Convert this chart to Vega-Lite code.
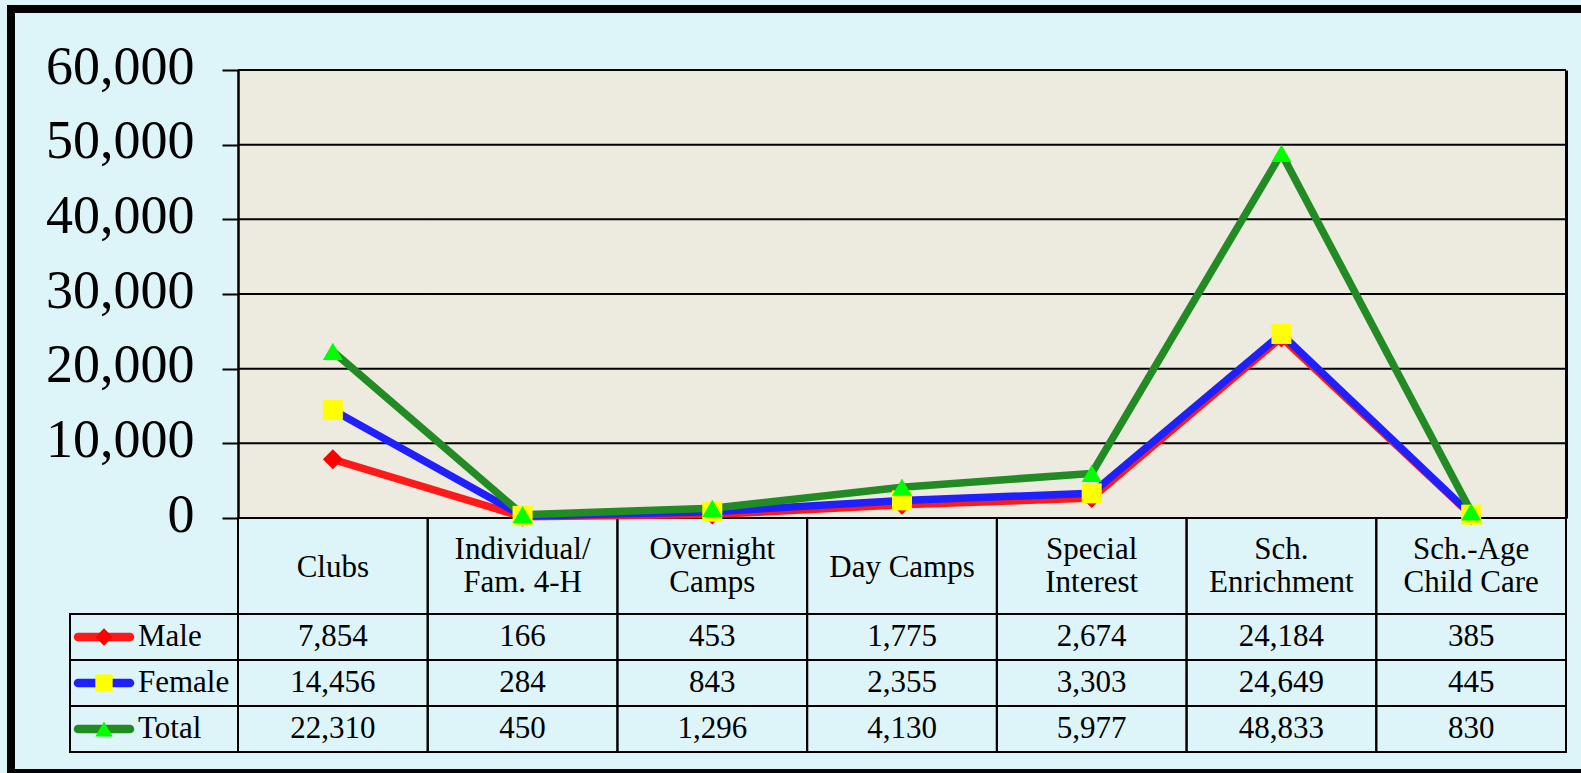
{
  "$schema": "https://vega.github.io/schema/vega-lite/v6.json",
  "width": 1570,
  "height": 764,
  "autosize": {"type": "none"},
  "padding": {"left": 11, "top": 9, "right": 0, "bottom": 0},
  "background": "#DDF4F9",
  "config": {
    "view": {"fill": "#DDF4F9", "stroke": "#000000", "strokeWidth": 8, "strokeDash": [1570, 764, 2400, 0]},
    "font": "Liberation Serif"
  },
  "datasets": {
    "gridValues": [
      {"tick": 0}, {"tick": 10000}, {"tick": 20000}, {"tick": 30000},
      {"tick": 40000}, {"tick": 50000}, {"tick": 60000}
    ]
  },
  "data": {
    "values": [
      {"series": "Male", "category": "Clubs", "value": 7854},
      {"series": "Male", "category": "Individual/\nFam. 4-H", "value": 166},
      {"series": "Male", "category": "Overnight\nCamps", "value": 453},
      {"series": "Male", "category": "Day Camps", "value": 1775},
      {"series": "Male", "category": "Special\nInterest", "value": 2674},
      {"series": "Male", "category": "Sch.\nEnrichment", "value": 24184},
      {"series": "Male", "category": "Sch.-Age\nChild Care", "value": 385},
      {"series": "Female", "category": "Clubs", "value": 14456},
      {"series": "Female", "category": "Individual/\nFam. 4-H", "value": 284},
      {"series": "Female", "category": "Overnight\nCamps", "value": 843},
      {"series": "Female", "category": "Day Camps", "value": 2355},
      {"series": "Female", "category": "Special\nInterest", "value": 3303},
      {"series": "Female", "category": "Sch.\nEnrichment", "value": 24649},
      {"series": "Female", "category": "Sch.-Age\nChild Care", "value": 445},
      {"series": "Total", "category": "Clubs", "value": 22310},
      {"series": "Total", "category": "Individual/\nFam. 4-H", "value": 450},
      {"series": "Total", "category": "Overnight\nCamps", "value": 1296},
      {"series": "Total", "category": "Day Camps", "value": 4130},
      {"series": "Total", "category": "Special\nInterest", "value": 5977},
      {"series": "Total", "category": "Sch.\nEnrichment", "value": 48833},
      {"series": "Total", "category": "Sch.-Age\nChild Care", "value": 830}
    ]
  },
  "layer": [
    {
      "transform": [{"filter": "datum.series === 'Male'"}],
      "layer": [
        {
          "mark": {"type": "rect", "filled": false, "color": "#000000", "strokeWidth": 2},
          "encoding": {
            "x": {"field": "category", "type": "nominal", "axis": null,
              "scale": {"type": "band", "domain": ["Clubs", "Individual/\nFam. 4-H", "Overnight\nCamps", "Day Camps", "Special\nInterest", "Sch.\nEnrichment", "Sch.-Age\nChild Care"], "range": [227, 1555], "paddingInner": 0, "paddingOuter": 0}},
            "y": {"datum": "header", "type": "nominal", "axis": null,
              "scale": {"type": "band", "domain": ["header"], "range": [509, 605], "paddingInner": 0, "paddingOuter": 0}}
          }
        },
        {
          "transform": [{"filter": "indexof(datum.category, '\\n') < 0"}],
          "mark": {"type": "text", "fontSize": 31, "baseline": "middle", "align": "center", "color": "#000000", "font": "Liberation Serif", "dy": 2},
          "encoding": {
            "x": {"field": "category", "type": "nominal", "axis": null,
              "scale": {"type": "band", "domain": ["Clubs", "Individual/\nFam. 4-H", "Overnight\nCamps", "Day Camps", "Special\nInterest", "Sch.\nEnrichment", "Sch.-Age\nChild Care"], "range": [227, 1555], "paddingInner": 0, "paddingOuter": 0}},
            "y": {"datum": "header", "type": "nominal", "axis": null,
              "scale": {"type": "band", "domain": ["header"], "range": [509, 605], "paddingInner": 0, "paddingOuter": 0}},
            "text": {"field": "category", "type": "nominal"}
          }
        },
        {
          "transform": [{"filter": "indexof(datum.category, '\\n') >= 0"}],
          "mark": {"type": "text", "fontSize": 31, "lineBreak": "\n", "lineHeight": 33, "baseline": "middle", "align": "center", "color": "#000000", "font": "Liberation Serif", "dy": -16},
          "encoding": {
            "x": {"field": "category", "type": "nominal", "axis": null,
              "scale": {"type": "band", "domain": ["Clubs", "Individual/\nFam. 4-H", "Overnight\nCamps", "Day Camps", "Special\nInterest", "Sch.\nEnrichment", "Sch.-Age\nChild Care"], "range": [227, 1555], "paddingInner": 0, "paddingOuter": 0}},
            "y": {"datum": "header", "type": "nominal", "axis": null,
              "scale": {"type": "band", "domain": ["header"], "range": [509, 605], "paddingInner": 0, "paddingOuter": 0}},
            "text": {"field": "category", "type": "nominal"}
          }
        }
      ]
    },
    {
      "layer": [
        {
          "mark": {"type": "rect", "filled": false, "color": "#000000", "strokeWidth": 2},
          "encoding": {
            "x": {"field": "category", "type": "nominal", "axis": null,
              "scale": {"type": "band", "domain": ["Clubs", "Individual/\nFam. 4-H", "Overnight\nCamps", "Day Camps", "Special\nInterest", "Sch.\nEnrichment", "Sch.-Age\nChild Care"], "range": [227, 1555], "paddingInner": 0, "paddingOuter": 0}},
            "y": {"field": "series", "type": "nominal", "axis": null,
              "scale": {"type": "band", "domain": ["Male", "Female", "Total"], "range": [605, 743], "paddingInner": 0, "paddingOuter": 0}}
          }
        },
        {
          "mark": {"type": "text", "fontSize": 31, "baseline": "middle", "align": "center", "color": "#000000", "font": "Liberation Serif"},
          "encoding": {
            "x": {"field": "category", "type": "nominal", "axis": null,
              "scale": {"type": "band", "domain": ["Clubs", "Individual/\nFam. 4-H", "Overnight\nCamps", "Day Camps", "Special\nInterest", "Sch.\nEnrichment", "Sch.-Age\nChild Care"], "range": [227, 1555], "paddingInner": 0, "paddingOuter": 0}},
            "y": {"field": "series", "type": "nominal", "axis": null,
              "scale": {"type": "band", "domain": ["Male", "Female", "Total"], "range": [605, 743], "paddingInner": 0, "paddingOuter": 0}},
            "text": {"field": "value", "type": "quantitative", "format": ",d"}
          }
        }
      ]
    },
    {
      "transform": [{"filter": "datum.category === 'Clubs'"}],
      "layer": [
        {
          "mark": {"type": "rect", "filled": false, "color": "#000000", "strokeWidth": 2},
          "encoding": {
            "x": {"datum": "legend", "type": "nominal", "axis": null,
              "scale": {"type": "band", "domain": ["legend"], "range": [59, 227], "paddingInner": 0, "paddingOuter": 0}},
            "y": {"field": "series", "type": "nominal", "axis": null,
              "scale": {"type": "band", "domain": ["Male", "Female", "Total"], "range": [605, 743], "paddingInner": 0, "paddingOuter": 0}}
          }
        },
        {
          "layer": [
            {
              "mark": {"type": "point", "shape": "stroke", "size": 2704, "strokeWidth": 8.5, "strokeCap": "round", "filled": false, "opacity": 1},
              "encoding": {
                "x": {"datum": "symbol", "type": "nominal", "axis": null,
                  "scale": {"type": "point", "domain": ["symbol"], "range": [59, 127], "padding": 0}},
                "y": {"field": "series", "type": "nominal", "axis": null,
                  "scale": {"type": "band", "domain": ["Male", "Female", "Total"], "range": [605, 743], "paddingInner": 0, "paddingOuter": 0}},
                "stroke": {"field": "series", "type": "nominal", "legend": null,
                  "scale": {"domain": ["Male", "Female", "Total"], "range": ["#FF1A1A", "#2020FF", "#238B23"]}}
              }
            },
            {
              "mark": {"type": "point", "filled": true, "size": 300, "strokeWidth": 0, "opacity": 1},
              "encoding": {
                "x": {"datum": "symbol", "type": "nominal", "axis": null,
                  "scale": {"type": "point", "domain": ["symbol"], "range": [59, 127], "padding": 0}},
                "y": {"field": "series", "type": "nominal", "axis": null,
                  "scale": {"type": "band", "domain": ["Male", "Female", "Total"], "range": [605, 743], "paddingInner": 0, "paddingOuter": 0}},
                "fill": {"field": "series", "type": "nominal", "legend": null,
                  "scale": {"domain": ["Male", "Female", "Total"], "range": ["#FF0000", "#FFFF00", "#00FF00"]}},
                "shape": {"field": "series", "type": "nominal", "legend": null,
                  "scale": {"domain": ["Male", "Female", "Total"], "range": ["diamond", "square", "triangle-up"]}}
              }
            }
          ]
        },
        {
          "mark": {"type": "text", "fontSize": 31, "baseline": "middle", "align": "left", "color": "#000000", "font": "Liberation Serif"},
          "encoding": {
            "x": {"datum": "label", "type": "nominal", "axis": null,
              "scale": {"type": "point", "domain": ["label"], "range": [127, 227], "padding": 0, "align": 0}},
            "y": {"field": "series", "type": "nominal", "axis": null,
              "scale": {"type": "band", "domain": ["Male", "Female", "Total"], "range": [605, 743], "paddingInner": 0, "paddingOuter": 0}},
            "text": {"field": "series", "type": "nominal"}
          }
        }
      ],
      "resolve": {"scale": {"x": "independent"}}
    },
    {
      "layer": [
        {
          "transform": [{"filter": "datum.series === 'Male'"}],
          "mark": {"type": "rect", "color": "#EDEAE0", "stroke": "#EDEAE0", "strokeWidth": 1},
          "encoding": {
            "x": {"field": "category", "type": "nominal", "axis": null,
              "scale": {"type": "band", "domain": ["Clubs", "Individual/\nFam. 4-H", "Overnight\nCamps", "Day Camps", "Special\nInterest", "Sch.\nEnrichment", "Sch.-Age\nChild Care"], "range": [227, 1555], "paddingInner": 0, "paddingOuter": 0}},
            "y": {"datum": 60000, "type": "quantitative", "axis": null,
              "scale": {"type": "linear", "domain": [0, 60000], "range": [509, 61], "nice": false, "zero": false}},
            "y2": {"datum": 0}
          }
        },
        {
          "data": {"name": "gridValues"},
          "mark": {"type": "rule", "color": "#000000", "strokeWidth": 2},
          "encoding": {
            "x": {"datum": 0, "type": "quantitative", "axis": null,
              "scale": {"type": "linear", "domain": [0, 1], "range": [227, 1555], "nice": false, "zero": false}},
            "x2": {"datum": 1},
            "y": {"field": "tick", "type": "quantitative", "axis": null,
              "scale": {"type": "linear", "domain": [0, 60000], "range": [509, 61], "nice": false, "zero": false}}
          }
        },
        {
          "mark": {"type": "line", "strokeWidth": 7.5},
          "encoding": {
            "x": {"field": "category", "type": "nominal", "axis": null,
              "scale": {"type": "band", "domain": ["Clubs", "Individual/\nFam. 4-H", "Overnight\nCamps", "Day Camps", "Special\nInterest", "Sch.\nEnrichment", "Sch.-Age\nChild Care"], "range": [227, 1555], "paddingInner": 0, "paddingOuter": 0}},
            "y": {"field": "value", "type": "quantitative",
              "scale": {"type": "linear", "domain": [0, 60000], "range": [509, 61], "nice": false, "zero": false},
              "axis": {"orient": "left", "offset": -227, "values": [0, 10000, 20000, 30000, 40000, 50000, 60000], "format": ",d", "title": null, "zindex": 1,
                "grid": false,
                "domain": true, "domainColor": "#000000", "domainWidth": 2.5,
                "ticks": true, "tickColor": "#000000", "tickWidth": 2, "tickSize": 16,
                "labelFont": "Liberation Serif", "labelFontSize": 54, "labelColor": "#000000", "labelPadding": 28, "labelOffset": -3, "labelOverlap": false, "labelFlush": false}},
            "stroke": {"field": "series", "type": "nominal", "legend": null,
              "scale": {"domain": ["Male", "Female", "Total"], "range": ["#FF1A1A", "#2020FF", "#238B23"]}},
            "order": {"value": null}
          }
        },
        {
          "mark": {"type": "point", "filled": true, "size": 400, "strokeWidth": 0, "opacity": 1},
          "encoding": {
            "x": {"field": "category", "type": "nominal", "axis": null,
              "scale": {"type": "band", "domain": ["Clubs", "Individual/\nFam. 4-H", "Overnight\nCamps", "Day Camps", "Special\nInterest", "Sch.\nEnrichment", "Sch.-Age\nChild Care"], "range": [227, 1555], "paddingInner": 0, "paddingOuter": 0}},
            "y": {"field": "value", "type": "quantitative",
              "scale": {"type": "linear", "domain": [0, 60000], "range": [509, 61], "nice": false, "zero": false},
              "axis": {"orient": "right", "offset": -15, "title": null, "zindex": 1, "grid": false, "ticks": false, "labels": false, "domain": true, "domainColor": "#000000", "domainWidth": 3}},
            "fill": {"field": "series", "type": "nominal", "legend": null,
              "scale": {"domain": ["Male", "Female", "Total"], "range": ["#FF0000", "#FFFF00", "#00FF00"]}},
            "shape": {"field": "series", "type": "nominal", "legend": null,
              "scale": {"domain": ["Male", "Female", "Total"], "range": ["diamond", "square", "triangle-up"]}}
          }
        }
      ],
      "resolve": {"scale": {"x": "independent"}, "axis": {"y": "independent"}}
    }
  ],
  "resolve": {"scale": {"x": "independent", "y": "independent", "stroke": "independent", "fill": "independent", "shape": "independent"}}
}
